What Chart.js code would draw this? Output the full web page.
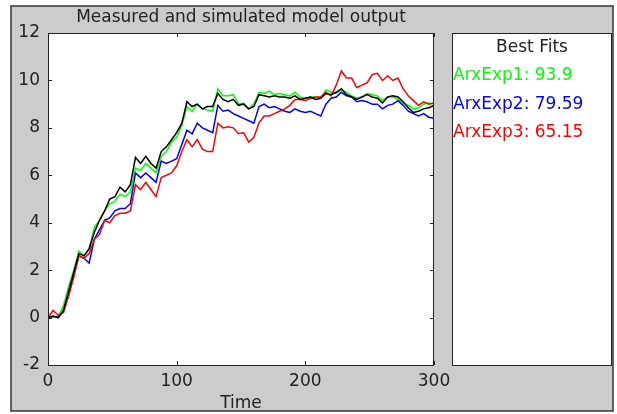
<!DOCTYPE html>
<html>
<head>
<meta charset="utf-8">
<script src="https://cdn.jsdelivr.net/npm/chart.js@4/dist/chart.umd.min.js"></script>
<style>
  html, body { margin: 0; padding: 0; background: #fff; }
  canvas { display: block; }
</style>
</head>
<body>
<canvas id="canvas" width="617" height="414"></canvas>
<script>
// sample times
const time = [0,4,8,12,16,20,24,28,32,36,40,44,48,52,56,60,64,68,72,76,80,84,88,92,96,100,
  104,108,112,116,120,124,128,132,136,140,144,148,152,156,160,164,168,172,176,180,184,188,192,196,200,
  204,208,212,216,220,224,228,232,236,240,244,248,252,256,260,264,268,272,276,280,284,288,292,296,300];

// measured output
const measured = [0,0.05,0,0.3,1.1,1.9,2.7,2.6,2.9,3.6,4.1,4.5,5.0,5.1,5.5,5.3,5.6,6.75,6.5,6.8,6.5,6.3,7.0,7.2,7.5,7.8,
  8.2,9.1,8.9,9.0,8.8,8.9,8.9,9.45,9.2,9.1,9.2,8.95,9.0,8.8,8.9,9.4,9.35,9.3,9.35,9.3,9.3,9.25,9.35,9.2,9.25,
  9.3,9.2,9.25,9.45,9.4,9.5,9.65,9.4,9.3,9.2,9.3,9.4,9.3,9.25,9.05,9.3,9.35,9.3,9.1,8.85,8.65,8.7,8.8,8.85,8.95];

const arxExp1 = [0,0.05,0.05,0.5,1.3,2.0,2.8,2.6,2.9,3.8,4.1,4.5,4.8,4.9,5.2,5.1,5.3,6.3,6.2,6.5,6.3,6.1,6.8,7.0,7.4,7.6,
  8.1,8.9,8.7,9.0,8.8,8.75,8.7,9.65,9.35,9.35,9.4,9.0,9.05,8.8,9.0,9.5,9.45,9.55,9.4,9.45,9.4,9.35,9.5,9.3,9.25,
  9.3,9.3,9.25,9.6,9.5,9.45,9.6,9.5,9.35,9.25,9.3,9.45,9.4,9.35,9.15,9.3,9.3,9.2,9.05,8.95,8.8,8.85,9.0,9.05,9.0];

const arxExp2 = [0,0.05,0,0.3,1.0,1.8,2.6,2.5,2.3,3.3,3.7,4.1,4.2,4.5,4.6,4.6,4.8,6.1,5.9,6.1,5.9,5.7,6.6,6.5,6.6,6.7,
  7.3,7.9,7.75,8.2,8.0,7.9,7.8,8.95,8.7,8.75,8.6,8.5,8.4,8.3,8.2,8.9,9.0,8.85,8.9,8.8,8.7,8.65,8.8,8.7,8.65,
  8.7,8.6,8.5,9.0,9.25,9.3,9.5,9.35,9.3,9.1,9.15,9.1,9.0,9.0,8.8,8.95,9.0,9.15,8.95,8.7,8.6,8.5,8.6,8.45,8.4];

const arxExp3 = [0,0.3,0.1,0.2,0.9,1.7,2.6,2.5,2.7,3.3,3.5,4.1,4.0,4.3,4.4,4.4,4.5,5.6,5.4,5.7,5.4,5.1,5.9,6.0,6.1,6.4,
  7.0,7.5,7.2,7.5,7.1,7.0,7.0,8.2,8.0,8.05,8.0,7.75,7.8,7.4,7.6,8.2,8.5,8.5,8.6,8.7,8.8,8.95,9.2,9.2,9.15,
  9.25,9.3,9.3,9.5,9.35,9.8,10.4,10.1,10.1,9.7,9.8,9.9,10.25,10.3,10.0,10.2,10.0,10.1,9.65,9.35,9.15,8.95,9.1,9.0,9.05];

const fitNames = ['ArxExp1', 'ArxExp2', 'ArxExp3'];
const fitValues = ['93.9', '79.59', '65.15'];
const fitColors = ['#00ff00', '#0000ff', '#ff0000'];

const FONT = '"DejaVu Sans", Verdana, sans-serif';
const FSIZE = 17;

function pts(vals) {
  return vals.map((v, i) => ({ x: time[i], y: v }));
}

// gray figure panel, white axes and legend box, box border + inward ticks, texts
const matlabFrame = {
  id: 'matlabFrame',
  beforeDraw(chart) {
    const ctx = chart.ctx;
    const a = chart.chartArea;
    ctx.save();
    ctx.fillStyle = '#ffffff';
    ctx.fillRect(0, 0, chart.width, chart.height);
    ctx.fillStyle = '#cccccc';
    ctx.fillRect(11, 6, 602, 405);
    ctx.strokeStyle = '#333333';
    ctx.lineWidth = 1.5;
    ctx.strokeRect(11, 6, 602, 405);
    ctx.fillStyle = '#ffffff';
    ctx.fillRect(a.left, a.top, a.right - a.left, a.bottom - a.top);
    ctx.fillRect(452, a.top, 159, a.bottom - a.top);
    ctx.strokeStyle = '#222222';
    ctx.lineWidth = 1;
    ctx.strokeRect(452.5, a.top + 0.5, 159, a.bottom - a.top);
    ctx.restore();
  },
  afterDraw(chart) {
    const ctx = chart.ctx;
    const a = chart.chartArea;
    const xs = chart.scales.x, ys = chart.scales.y;
    ctx.save();
    ctx.strokeStyle = '#222222';
    ctx.lineWidth = 1;
    ctx.strokeRect(a.left + 0.5, a.top + 0.5, a.right - a.left - 1, a.bottom - a.top);
    ctx.beginPath();
    xs.ticks.forEach(t => {
      const px = Math.round(xs.getPixelForValue(t.value)) + 0.5;
      ctx.moveTo(px, a.bottom); ctx.lineTo(px, a.bottom - 4);
      ctx.moveTo(px, a.top); ctx.lineTo(px, a.top + 4);
    });
    ys.ticks.forEach(t => {
      const py = Math.round(ys.getPixelForValue(t.value)) + 0.5;
      ctx.moveTo(a.left, py); ctx.lineTo(a.left + 4, py);
      ctx.moveTo(a.right, py); ctx.lineTo(a.right - 4, py);
    });
    ctx.stroke();

    ctx.fillStyle = '#222222';
    ctx.font = FSIZE + 'px ' + FONT;
    ctx.textAlign = 'center';
    ctx.textBaseline = 'middle';
    ctx.fillText('Measured and simulated model output', (a.left + a.right) / 2, 18);
    ctx.fillText('Best Fits', 532, 48);
    ctx.textAlign = 'left';
    fitNames.forEach((n, i) => {
      ctx.fillStyle = fitColors[i];
      ctx.fillText(n + ': ' + fitValues[i], 453, 76 + i * 28.5);
    });
    ctx.restore();
  }
};

const line = (data, color) => ({
  data: pts(data),
  borderColor: color,
  borderWidth: 1.5,
  pointRadius: 0,
  fill: false,
  tension: 0
});

new Chart(document.getElementById('canvas'), {
  type: 'line',
  data: {
    datasets: [
      line(measured, '#000000'),
      line(arxExp3, '#ff0000'),
      line(arxExp2, '#0000ff'),
      line(arxExp1, '#00ff00')
    ]
  },
  options: {
    responsive: false,
    animation: false,
    layout: { padding: { top: 33, right: 183, left: 0, bottom: 0 } },
    plugins: { legend: { display: false }, tooltip: { enabled: false } },
    scales: {
      x: {
        type: 'linear',
        min: 0,
        max: 300,
        grid: { display: false, drawTicks: false },
        border: { display: false },
        ticks: { stepSize: 100, padding: 6, color: '#222', font: { size: FSIZE, family: FONT } },
        title: { display: true, text: 'Time', color: '#222', font: { size: FSIZE, family: FONT }, padding: { top: 0, bottom: 0 } },
        afterFit(scale) { scale.height = 49; }
      },
      y: {
        min: -2,
        max: 12,
        grid: { display: false, drawTicks: false },
        border: { display: false },
        ticks: { stepSize: 2, padding: 8, color: '#222', font: { size: FSIZE, family: FONT } },
        afterFit(scale) { scale.width = 48; }
      }
    }
  },
  plugins: [matlabFrame]
});
</script>
</body>
</html>
